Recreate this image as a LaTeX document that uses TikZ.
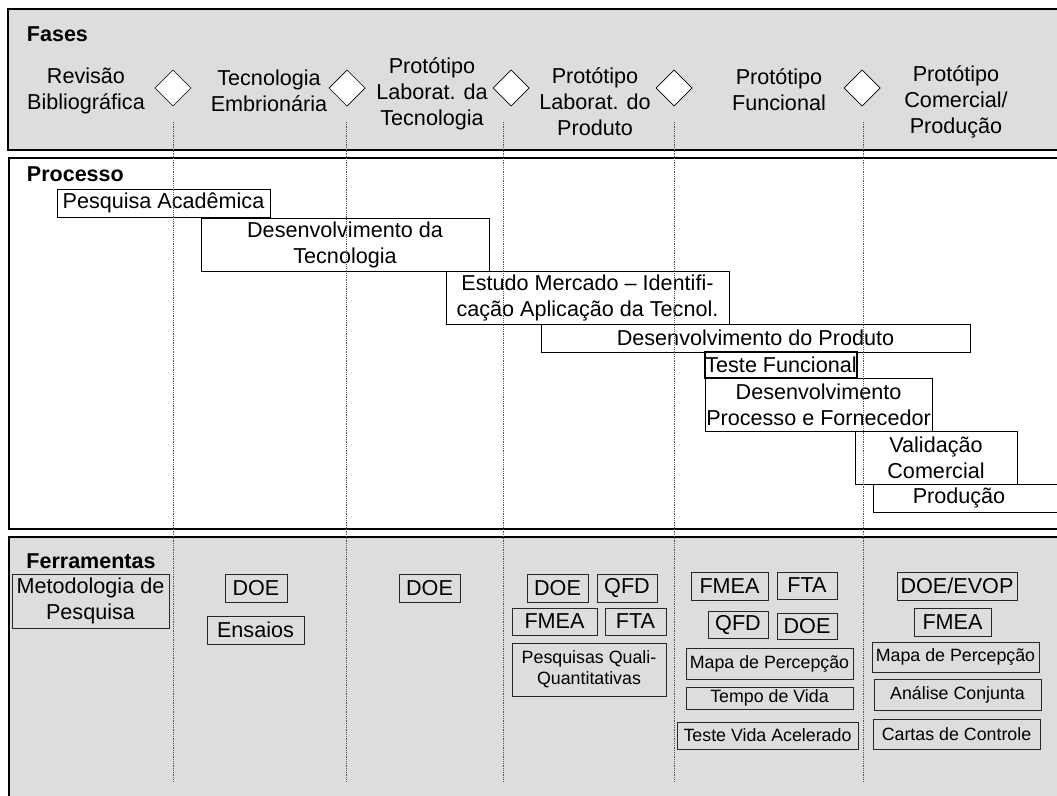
\documentclass[tikz,border=0pt]{standalone}
\usepackage{fontspec}
\setmainfont{Liberation Sans}
\usetikzlibrary{shapes.geometric}
\definecolor{panel}{HTML}{DDDDDD}
\definecolor{dotline}{HTML}{555555}
\newcommand\fbig{\fontsize{21.6}{26}\selectfont}
\newcommand\fsml{\fontsize{17.8}{21}\selectfont}
\newcommand\fhead{\fontsize{21.5}{24}\selectfont\bfseries}
\begin{document}
\begin{tikzpicture}[x=1pt,y=-1pt,
  every node/.style={inner sep=0pt, outer sep=0pt},
  greypanel/.style={draw=black, line width=1.3pt, fill=panel},
  whitepanel/.style={draw=black, line width=1.3pt, fill=white},
  pbox/.style={draw=black, line width=0.9pt, fill=white, align=center, font=\fbig},
  tbox/.style={draw=black!85, line width=0.9pt, align=center, font=\fbig},
  sbox/.style={tbox, font=\fsml},
  phase/.style={align=center, font=\fbig},
  head/.style={font=\fhead},
  milestone/.style={diamond, aspect=1, draw=black, line width=0.7pt, fill=white, minimum width=36pt, minimum height=36pt},
  vline/.style={draw=dotline, line width=0.8pt, densely dotted}
]
\useasboundingbox (0,0) rectangle (1057,795);
\clip (0,0) rectangle (1057,795);

% panels
\draw[greypanel] (8,9) rectangle (1070,150);
\draw[whitepanel] (9,158) rectangle (1070,529);
\draw[greypanel] (9,537) rectangle (1070,810);

\node[head, anchor=west] (hfases) at (27,34) {Fases};
\node[head, anchor=west] (hproc) at (27,174) {Processo};
\node[head] (hferr) at (91,561) {Ferramentas};

% phases
\node[phase] (ph1) at (86,91) {Revisão\\Bibliográfica};
\node[phase] (ph2) at (269,91) {Tecnologia\\Embrionária};
\node[phase] (ph3) at (432,94) {Protótipo\\Laborat. da\\Tecnologia};
\node[phase] (ph4) at (595,102) {Protótipo\\Laborat. do\\Produto};
\node[phase] (ph5) at (779,89.5) {Protótipo\\Funcional};
\node[phase] (ph6) at (956,102) {Protótipo\\Comercial/\\Produção};

\node[milestone] (m1) at (173,88) {};
\node[milestone] (m2) at (347,88) {};
\node[milestone] (m3) at (511,88) {};
\node[milestone] (m4) at (674,88) {};
\node[milestone] (m5) at (862,88) {};

% process
\node[pbox, minimum width=213pt, minimum height=28pt] (pa) at (163.5,203) {Pesquisa Acadêmica};
\node[pbox, minimum width=288pt, minimum height=53pt] (dt) at (345,244.5) {Desenvolvimento da\\Tecnologia};
\node[pbox, minimum width=283pt, minimum height=53pt] (em) at (587.5,297.5) {Estudo Mercado -- Identifi-\\cação Aplicação da Tecnol.};
\node[pbox, minimum width=429pt, minimum height=28pt] (dp) at (755.5,338) {Desenvolvimento do Produto};
\node[pbox, minimum width=152pt, minimum height=26pt, line width=1.4pt] (tf) at (781,365) {Teste Funcional};
\node[pbox, minimum width=227pt, minimum height=53pt] (dpf) at (818.5,404.5) {Desenvolvimento\\Processo e Fornecedor};
\node[pbox, minimum width=162pt, minimum height=53pt] (vc) at (936,457.5) {Validação\\Comercial};
\node[pbox, minimum width=202pt, minimum height=28pt] (pr) at (974,498) {Produção\kern30pt};

% tools
\node[tbox, minimum width=157pt, minimum height=54pt] (mp) at (90.5,601) {Metodologia de\\Pesquisa};
\node[tbox, minimum width=62pt, minimum height=28pt] (doeB) at (256,588) {DOE};
\node[tbox, minimum width=97pt, minimum height=28pt] (ens) at (255.5,630) {Ensaios};
\node[tbox, minimum width=61pt, minimum height=28pt] (doeC) at (429.5,588) {DOE};
\node[tbox, minimum width=61pt, minimum height=28pt] (doeD) at (557.5,588) {DOE};
\node[tbox, minimum width=60pt, minimum height=28pt] (qfdD) at (627,588) {QFD};
\node[tbox, minimum width=85pt, minimum height=27pt] (fmeaD) at (554.5,621.5) {FMEA};
\node[tbox, minimum width=61pt, minimum height=27pt] (ftaD) at (635.5,621.5) {FTA};
\node[sbox, minimum width=154pt, minimum height=53pt] (pq) at (589,669.5) {Pesquisas Quali-\\Quantitativas};
\node[tbox, minimum width=77pt, minimum height=28pt] (fmeaE) at (729.5,586) {FMEA};
\node[tbox, minimum width=60pt, minimum height=27pt] (ftaE) at (807,585.5) {FTA};
\node[tbox, minimum width=60pt, minimum height=27pt] (qfdE) at (738,624.5) {QFD};
\node[tbox, minimum width=60pt, minimum height=26pt] (doeE) at (807,626) {DOE};
\node[sbox, minimum width=167pt, minimum height=31pt] (mppE) at (769.5,663.5) {Mapa de Percepção};
\node[sbox, minimum width=167pt, minimum height=22pt] (tvE) at (769.5,698) {Tempo de Vida};
\node[sbox, minimum width=181pt, minimum height=27pt] (tvaE) at (767.5,735.5) {Teste Vida Acelerado};
\node[tbox, minimum width=120pt, minimum height=28pt] (evF) at (957,586) {DOE/EVOP};
\node[tbox, minimum width=77pt, minimum height=28pt] (fmeaF) at (952.5,622) {FMEA};
\node[sbox, minimum width=167pt, minimum height=30pt] (mppF) at (955.5,657) {Mapa de Percepção};
\node[sbox, minimum width=167pt, minimum height=31pt] (acF) at (957.5,694.5) {Análise Conjunta};
\node[sbox, minimum width=167pt, minimum height=30pt] (ccF) at (956.5,734) {Cartas de Controle};

% dotted phase separators
\foreach \i/\x in {1/173,2/346,3/503,4/674,5/863}{
  \coordinate (v\i t) at (\x,122);
  \coordinate (v\i b) at (\x,782);
  \draw[vline] (v\i t) -- (v\i b);
}
\end{tikzpicture}
\end{document}
